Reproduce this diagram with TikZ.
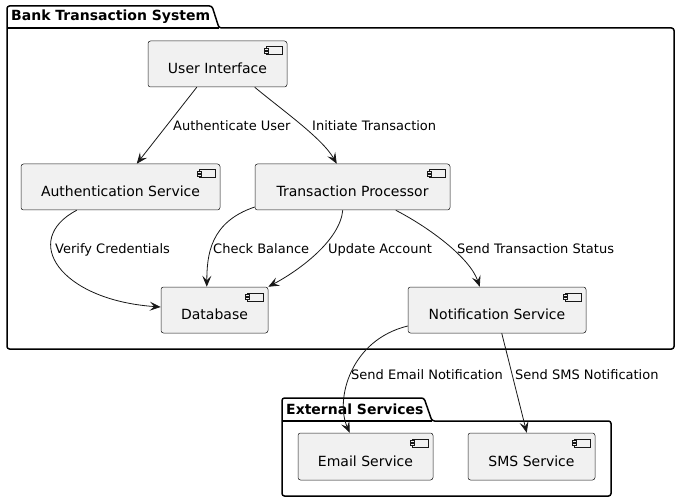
\documentclass[tikz,border=0pt]{standalone}
\usepackage{fontspec}
\setmainfont{DejaVu Sans}
\usetikzlibrary{arrows.meta,calc}
\definecolor{bd}{HTML}{181818}
\definecolor{cf}{HTML}{F1F1F1}
\newcommand{\compicon}[1]{%
  \draw[draw=bd, line width=0.5pt, fill=cf] ($(#1.north east)+(-21,6)$) rectangle ($(#1.north east)+(-5,14)$);
  \draw[draw=bd, line width=0.5pt, fill=cf] ($(#1.north east)+(-23,7.5)$) rectangle ($(#1.north east)+(-19,9.5)$);
  \draw[draw=bd, line width=0.5pt, fill=cf] ($(#1.north east)+(-23,10.5)$) rectangle ($(#1.north east)+(-19,12.5)$);}
\begin{document}
\begin{tikzpicture}[x=1pt,y=-1pt,
  comp/.style={draw=bd, line width=0.5pt, fill=cf, rounded corners=2.5pt, minimum height=46pt, inner sep=0pt,
    font=\fontsize{14pt}{16pt}\selectfont, text height=20pt, text depth=1pt},
  lbl/.style={inner sep=0pt, anchor=base west, font=\fontsize{13pt}{15pt}\selectfont, text=black},
  arr/.style={draw=bd, line width=0.8pt, -{Stealth[length=11pt,width=9pt,inset=4.5pt]}},
  pkg/.style={draw=black, line width=1.5pt, rounded corners=2.5pt},
  ttl/.style={inner sep=0pt, anchor=base west, font=\bfseries\fontsize{14pt}{16pt}\selectfont}]
\useasboundingbox[fill=white] (0,0) rectangle (679,502);

% packages
\draw[pkg] (7,349) -- (7,6) -- (212,6) -- (219,28) -- (674,28) -- (674,349) -- cycle;
\draw[line width=1.5pt] (7,28) -- (219,28);
\node[ttl] (t1) at (11,21) {Bank Transaction System};

\draw[pkg] (282,496) -- (282,398) -- (424,398) -- (432,421) -- (611,421) -- (611,496) -- cycle;
\draw[line width=1.5pt] (282,421) -- (432,421);
\node[ttl] (t2) at (286,414) {External Services};

% components
\node[comp, minimum width=139pt] (ui) at (217.5,64) {User Interface};
\node[comp, minimum width=199pt] (auth) at (120.5,187) {Authentication Service};
\node[comp, minimum width=195pt] (tp) at (352.5,187) {Transaction Processor};
\node[comp, minimum width=107pt] (db) at (214.5,310) {Database};
\node[comp, minimum width=178pt] (notif) at (497,310) {Notification Service};
\node[comp, minimum width=135pt, minimum height=47pt] (email) at (365.5,456.5) {Email Service};
\node[comp, minimum width=127pt, minimum height=47pt] (sms) at (531.5,456.5) {SMS Service};
\foreach \n in {ui,auth,tp,db,notif,email,sms} {\compicon{\n}}

% connectors
\draw[arr] ([xshift=49pt]ui.south west) -- ([xshift=116pt]auth.north west);
\draw[arr] ([xshift=107pt]ui.south west) .. controls (282,110) and (322,138) .. ([xshift=82pt]tp.north west);
\draw[arr] ([xshift=56pt]auth.south west) .. controls (20,240) and (60,300) .. ([yshift=3pt]db.west);
\draw[arr] ([yshift=-20pt]tp.west) .. controls (210,222) and (207,255) .. ([xshift=46pt]db.north west);
\draw[arr] ([xshift=88pt]tp.south west) .. controls (340,240) and (300,270) .. (db.north east);
\draw[arr] ([xshift=141pt]tp.south west) .. controls (430,228) and (470,258) .. ([xshift=72pt]notif.north west);
\draw[arr] ([yshift=-16pt]notif.west) .. controls (350,340) and (335,400) .. ([xshift=52pt]email.north west);
\draw[arr] ([xshift=94pt]notif.south west) -- ([xshift=59pt]sms.north west);

% labels
\node[lbl] (l1) at (173,131) {Authenticate User};
\node[lbl] (l2) at (312,131) {Initiate Transaction};
\node[lbl] (l3) at (55,254) {Verify Credentials};
\node[lbl] (l4) at (213,254) {Check Balance};
\node[lbl] (l5) at (328,254) {Update Account};
\node[lbl] (l6) at (457,254) {Send Transaction Status};
\node[lbl] (l7) at (351,379) {Send Email Notification};
\node[lbl] (l8) at (515,379) {Send SMS Notification};
\end{tikzpicture}
\end{document}
